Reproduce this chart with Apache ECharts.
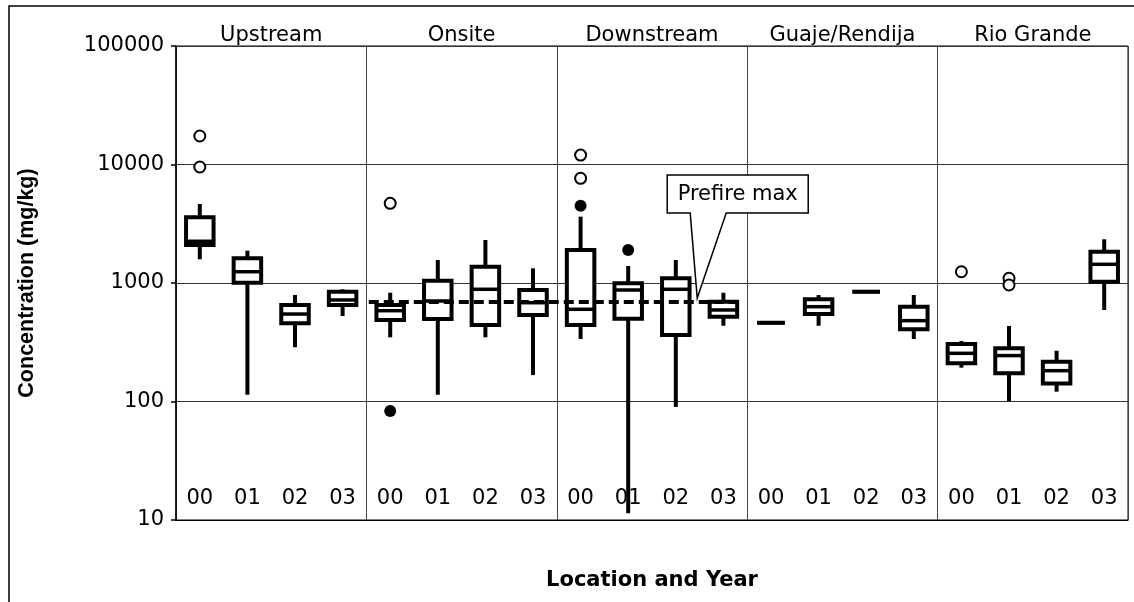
<!DOCTYPE html>
<html>
<head>
<meta charset="utf-8">
<script src="https://cdn.jsdelivr.net/npm/echarts@6/dist/echarts.min.js"></script>
<style>
html,body{margin:0;padding:0;background:#fff;}
#c{width:1134px;height:602px;}
</style>
</head>
<body>
<div id="c"></div>
<script>
// ---- data ----
const locations = ['Upstream', 'Onsite', 'Downstream', 'Guaje/Rendija', 'Rio Grande'];
const years = ['00', '01', '02', '03'];
const yTicks = [10, 100, 1000, 10000, 100000];
// each box: [min, Q1, median, Q3, max]
const upstream   = [[1585, 2090, 2250, 3580, 4640], [114, 1006, 1245, 1616, 1874], [287, 457, 547, 652, 792], [527, 652, 719, 845, 885]];
const onsite     = [[348, 487, 584, 652, 828], [114, 497, 705, 1046, 1563], [348, 442, 885, 1373, 2306], [167, 537, 682, 873, 1330]];
const downstream = [[337, 442, 600, 1898, 3630], [11.4, 500, 873, 995, 1391], [90, 364, 885, 1096, 1563], [436, 520, 592, 695, 828]];
const guaje      = [[462, 462, 462, 462, 462], [436, 547, 631, 728, 792], [845, 845, 845, 845, 845], [337, 407, 481, 631, 792]];
const rioGrande  = [[193, 210, 255, 306, 324], [101, 173, 244, 281, 434], [121, 142, 182, 217, 268], [592, 1026, 1438, 1837, 2338]];
// outliers: [location index, year index, value]
const openOutliers   = [[0, 0, 17400], [0, 0, 9530], [1, 0, 4700], [2, 0, 12000], [2, 0, 7650], [4, 0, 1245], [4, 1, 1096], [4, 1, 962]];
const filledOutliers = [[1, 0, 83], [2, 0, 4490], [2, 1, 1900]];
const prefireMax = 690;
const prefireLabel = 'Prefire max';

// ---- build ----
const groups = [upstream, onsite, downstream, guaje, rioGrande];
const categories = [];
locations.forEach(l => years.forEach(y => categories.push(l + ' ' + y)));
const boxData = [];
groups.forEach((g, gi) => g.forEach((b, yi) => boxData.push([gi * years.length + yi].concat(b))));
const openData = openOutliers.map(o => [o[0] * years.length + o[1], o[2]]);
const filledData = filledOutliers.map(o => [o[0] * years.length + o[1], o[2]]);
const nCat = categories.length;
// dashed prefire line spans Onsite and Downstream groups (category-edge units)
const lineStart = 1 * years.length + 0.05, lineEnd = 3 * years.length - 0.15;

const FONT = '"DejaVu Sans", "Liberation Sans", sans-serif';
const FONT_V = '"Liberation Sans", Arial, sans-serif';
const chart = echarts.init(document.getElementById('c'), null, {renderer: 'canvas'});

function renderBox(params, api) {
  const x = api.value(0);
  const mn = api.coord([x, api.value(1)]);
  const q1 = api.coord([x, api.value(2)]);
  const md = api.coord([x, api.value(3)]);
  const q3 = api.coord([x, api.value(4)]);
  const mx = api.coord([x, api.value(5)]);
  const cx = mn[0], w = 27.5;
  const ch = [];
  if (mx[1] < q3[1]) ch.push({type: 'line', shape: {x1: cx, y1: mx[1], x2: cx, y2: q3[1]}, style: {stroke: '#000', lineWidth: 4}});
  if (mn[1] > q1[1]) ch.push({type: 'line', shape: {x1: cx, y1: q1[1], x2: cx, y2: mn[1]}, style: {stroke: '#000', lineWidth: 4}});
  ch.push({type: 'rect', shape: {x: cx - w / 2, y: q3[1], width: w, height: q1[1] - q3[1]}, style: {fill: '#fff', stroke: '#000', lineWidth: 4}});
  ch.push({type: 'line', shape: {x1: cx - w / 2, y1: md[1], x2: cx + w / 2, y2: md[1]}, style: {stroke: '#000', lineWidth: 3.5}});
  return {type: 'group', children: ch};
}

chart.setOption({
  animation: false,
  backgroundColor: '#fff',
  textStyle: {fontFamily: FONT, color: '#000'},
  grid: {left: 176, right: 6, top: 46, bottom: 82, show: true, borderColor: '#000', borderWidth: 1, backgroundColor: '#fff'},
  xAxis: [
    {
      type: 'category', data: categories, position: 'bottom',
      name: 'Location and Year', nameLocation: 'middle', nameGap: 50,
      nameTextStyle: {fontFamily: FONT, fontSize: 21, fontWeight: 'bold', color: '#000'},
      axisLine: {show: true, lineStyle: {color: '#000', width: 1}},
      axisTick: {show: false},
      splitLine: {show: false},
      axisLabel: {inside: true, margin: 11, interval: 0, fontSize: 21, color: '#000', fontFamily: FONT,
        formatter: v => v.split(' ').pop()}
    },
    {
      type: 'category', data: locations, position: 'top',
      axisLine: {show: false}, axisTick: {show: false},
      splitLine: {show: true, interval: 0, lineStyle: {color: '#444', width: 1}},
      axisLabel: {margin: 0, interval: 0, fontSize: 21, color: '#000', fontFamily: FONT}
    },
    {type: 'value', min: 0, max: nCat, show: false}
  ],
  yAxis: {
    type: 'log', logBase: 10, min: yTicks[0], max: yTicks[yTicks.length - 1],
    name: 'Concentration (mg/kg)', nameLocation: 'middle', nameGap: 138,
    nameTextStyle: {fontFamily: FONT_V, fontSize: 21.5, fontWeight: 'bold', color: '#000'},
    axisLine: {show: true, lineStyle: {color: '#000', width: 1.5}},
    axisTick: {show: true, length: 5, lineStyle: {color: '#000', width: 1.5}},
    splitLine: {show: true, lineStyle: {color: '#333', width: 1}},
    axisLabel: {fontSize: 21, color: '#000', margin: 12, fontFamily: FONT, formatter: v => String(Math.round(v))}
  },
  series: [
    {
      type: 'custom', name: 'box', xAxisIndex: 0, yAxisIndex: 0,
      renderItem: renderBox, data: boxData,
      encode: {x: 0, y: [1, 2, 3, 4, 5]}, z: 3
    },
    {
      type: 'scatter', name: 'outlier', xAxisIndex: 0, data: openData,
      symbol: 'circle', symbolSize: 11,
      itemStyle: {color: '#fff', borderColor: '#000', borderWidth: 2, opacity: 1}, z: 4
    },
    {
      type: 'scatter', name: 'extreme', xAxisIndex: 0, data: filledData,
      symbol: 'circle', symbolSize: 12,
      itemStyle: {color: '#000', opacity: 1}, z: 4
    },
    {
      type: 'line', name: prefireLabel, xAxisIndex: 2, yAxisIndex: 0,
      data: [[lineStart, prefireMax], [lineEnd, prefireMax]],
      symbol: 'none', lineStyle: {color: '#000', width: 4, type: [10, 5]}, z: 5
    }
  ]
});

// callout for the prefire max line
const tip = chart.convertToPixel({xAxisIndex: 2, yAxisIndex: 0}, [10.95, prefireMax]);
const tx = tip[0], ty = tip[1] - 4;
const bl = tx - 30, br = tx + 111, bt = ty - 123, bb = ty - 85;
chart.setOption({
  graphic: [
    {type: 'rect', shape: {x: 9, y: 6, width: 1300, height: 800}, style: {fill: 'none', stroke: '#000', lineWidth: 1.5}, z: 100, silent: true},
    {type: 'polygon', shape: {points: [[bl, bt], [br, bt], [br, bb], [tx + 29, bb], [tx, ty], [tx - 7, bb], [bl, bb]]},
      style: {fill: '#fff', stroke: '#000', lineWidth: 1.5}, z: 100},
    {type: 'text', x: (bl + br) / 2, y: (bt + bb) / 2, style: {text: prefireLabel, fontSize: 21, fontFamily: FONT, fill: '#000', align: 'center', verticalAlign: 'middle'}, z: 101}
  ]
});
</script>
</body>
</html>
